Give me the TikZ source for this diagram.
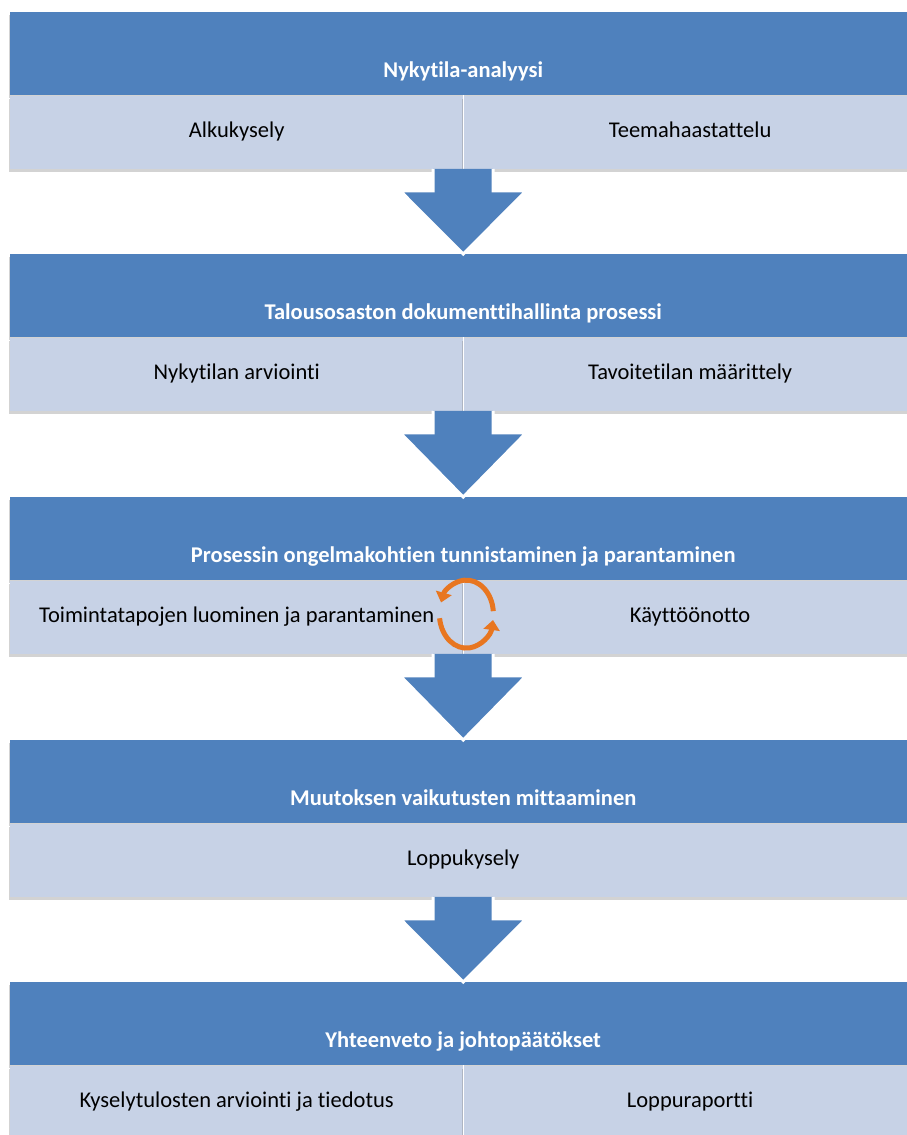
\documentclass[tikz,border=0pt]{standalone}
\usepackage{fontspec}
\setmainfont{Carlito}[Ligatures=NoCommon]
\usetikzlibrary{calc,arrows.meta,shadows}
\definecolor{hdblue}{RGB}{79,129,189}
\definecolor{rowblue}{RGB}{199,210,230}
\definecolor{looporange}{RGB}{232,118,32}

\begin{document}
\begin{tikzpicture}[x=1pt,y=-1pt,
  hd/.style={anchor=north west, fill=hdblue, text=white,
    font=\fontsize{22.5}{26}\selectfont\bfseries, minimum width=906pt,
    inner sep=0pt, text height=65pt, text depth=18pt,
    drop shadow={shadow xshift=-1.5pt, shadow yshift=-3pt, opacity=.35}},
  cell/.style={anchor=north west, fill=rowblue, font=\fontsize{22.5}{26}\selectfont,
    minimum width=453pt, inner sep=0pt, text height=42pt, text depth=31pt,
    drop shadow={shadow xshift=-1.5pt, shadow yshift=-3pt, opacity=.35}},
  wide/.style={cell, minimum width=906pt},
  divider/.style={draw=white, line width=1pt},
  bigarrow/.style={fill=hdblue, draw=white, line width=3pt, line join=miter},
  cyc/.style={draw=looporange, line width=5pt, -{Triangle[length=10pt,width=16pt]}}]
      \useasboundingbox (0,0) rectangle (906,1135);
      % Nykytila-analyysi
      \node[hd] (h1) at (10,12) {Nykytila-analyysi};
      \node[cell] (l1) at (h1.south west) {Alkukysely};
      \node[cell] (r1) at (l1.north east) {Teemahaastattelu};
      \draw[divider] (r1.north west) -- (r1.south west);
      % Prosessi
      \node[hd] (h2) at (10,254) {Talousosaston dokumenttihallinta prosessi};
      \node[cell] (l2) at (h2.south west) {Nykytilan arviointi};
      \node[cell] (r2) at (l2.north east) {Tavoitetilan määrittely};
      \draw[divider] (r2.north west) -- (r2.south west);
      % Ongelmakohdat
      \node[hd] (h3) at (10,497) {Prosessin ongelmakohtien tunnistaminen ja parantaminen};
      \node[cell] (l3) at (h3.south west) {Toimintatapojen luominen ja parantaminen};
      \node[cell] (r3) at (l3.north east) {Käyttöönotto};
      \draw[divider] (r3.north west) -- (r3.south west);
      % Mittaaminen
      \node[hd] (h4) at (10,740) {Muutoksen vaikutusten mittaaminen};
      \node[wide] (c4) at (h4.south west) {Loppukysely};
      % Yhteenveto
      \node[hd] (h5) at (10,982) {Yhteenveto ja johtopäätökset};
      \node[cell] (l5) at (h5.south west) {Kyselytulosten arviointi ja tiedotus};
      \node[cell] (r5) at (l5.north east) {Loppuraportti};
      \draw[divider] (r5.north west) -- (r5.south west);
      % Arrows between the blocks
      \foreach \up/\down in {l1/h2,l2/h3,l3/h4,c4/h5}{
        \coordinate (s) at (\down.north |- \up.south);
        \filldraw[bigarrow] ($(s)+(-30,0)$) -- ($(s)+(-30,22)$) -- ($(s)+(-63,22)$)
          -- (\down.north) -- ($(s)+(63,22)$) -- ($(s)+(30,22)$) -- ($(s)+(30,0)$);
      }
      % Loop
      \coordinate (loop) at ($(r3.west)+(3,-3)$);
      \draw[cyc] ($(loop)+(-5:27 and 34)$) arc[start angle=-5, end angle=-160, x radius=27, y radius=34];
      \draw[cyc] ($(loop)+(-187:27 and 34)$) arc[start angle=-187, end angle=-350, x radius=27, y radius=34];
\end{tikzpicture}
\end{document}
